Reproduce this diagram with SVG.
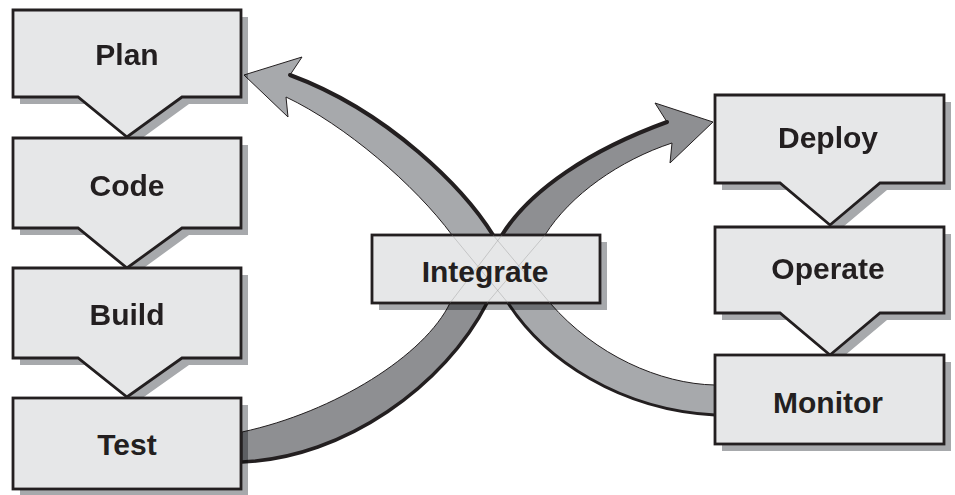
<svg xmlns="http://www.w3.org/2000/svg" width="955" height="495" viewBox="0 0 955 495">
<style>
.box{fill:#e6e7e8;stroke:#231f20;stroke-width:2.8;stroke-linejoin:miter}
.sh{fill:#a7a9ac;mix-blend-mode:multiply}
.lbl{font-family:"Liberation Sans",Arial,sans-serif;font-weight:bold;font-size:30px;fill:#231f20;text-anchor:middle}
.band{stroke:#231f20;stroke-width:1;stroke-linejoin:miter}
.edge{fill:none;stroke:#231f20;stroke-linecap:round}
.ghost{stroke:#8a8a8a;stroke-width:0.6;opacity:0.6;fill:none}
</style>
<rect width="955" height="495" fill="#ffffff"/>
<g id="connectors">
  <path class="band" fill="#a7a9ac" d="M715,385 C660,384 595,355 550,303 L493,235 C465,190 390,112 290,75 L302,57 L244,75 L288,117 L286,97 C345,125 415,185 452,235 L508,303 C545,360 620,410 715,415 Z"/>
  <path class="edge" stroke-width="4" d="M493,235 C465,190 390,112 290,75"/>
  <path class="edge" stroke-width="3" d="M508,303 C545,360 620,410 715,415"/>
  <path class="band" fill="#8e8f92" d="M242,432 C335,412 425,355 450,303 L502,235 C530,190 590,150 667,122 L655,103 L713,122 L670,163 L672,143 C620,160 570,195 545,235 L487,303 C445,385 345,458 242,462 Z"/>
  <path class="edge" stroke-width="3.5" d="M487,303 C445,385 345,458 242,462"/>
  <path class="edge" stroke-width="4" d="M502,235 C530,190 590,150 667,122"/>
</g>
<g id="plan">
  <path class="sh" d="M20,17 H248 V104 H189 L134,144 L85,104 H20 Z"/>
  <path class="box" d="M13,10 H241 V97 H182 L127,137 L78,97 H13 Z"/>
  <text class="lbl" x="127" y="65">Plan</text>
</g>
<g id="code">
  <path class="sh" d="M20,145 H248 V235 H189 L134,275 L85,235 H20 Z"/>
  <path class="box" d="M13,138 H241 V228 H182 L127,268 L78,228 H13 Z"/>
  <text class="lbl" x="127" y="196">Code</text>
</g>
<g id="build">
  <path class="sh" d="M20,275 H248 V365 H189 L134,404 L85,365 H20 Z"/>
  <path class="box" d="M13,268 H241 V358 H182 L127,397 L78,358 H13 Z"/>
  <text class="lbl" x="127" y="325">Build</text>
</g>
<g id="test">
  <rect class="sh" x="20" y="405" width="228" height="91"/>
  <rect class="box" x="13" y="398" width="228" height="91"/>
  <text class="lbl" x="127" y="455">Test</text>
</g>
<g id="integrate">
  <rect class="sh" x="379" y="242" width="228" height="68"/>
  <rect class="box" x="372" y="235" width="228" height="68"/>
  <line class="ghost" x1="452" y1="235" x2="508" y2="303"/>
  <line class="ghost" x1="493" y1="235" x2="550" y2="303"/>
  <line class="ghost" x1="502" y1="235" x2="450" y2="303"/>
  <line class="ghost" x1="545" y1="235" x2="487" y2="303"/>
  <text class="lbl" x="485" y="282">Integrate</text>
</g>
<g id="deploy">
  <path class="sh" d="M722,102 H951 V190 H887 L837,232 L787,190 H722 Z"/>
  <path class="box" d="M715,95 H944 V183 H880 L830,225 L780,183 H715 Z"/>
  <text class="lbl" x="828" y="148">Deploy</text>
</g>
<g id="operate">
  <path class="sh" d="M722,234 H951 V320 H887 L837,362 L787,320 H722 Z"/>
  <path class="box" d="M715,227 H944 V313 H880 L830,355 L780,313 H715 Z"/>
  <text class="lbl" x="828" y="279">Operate</text>
</g>
<g id="monitor">
  <rect class="sh" x="722" y="362" width="229" height="89"/>
  <rect class="box" x="715" y="355" width="229" height="89"/>
  <text class="lbl" x="828" y="413">Monitor</text>
</g>
</svg>
